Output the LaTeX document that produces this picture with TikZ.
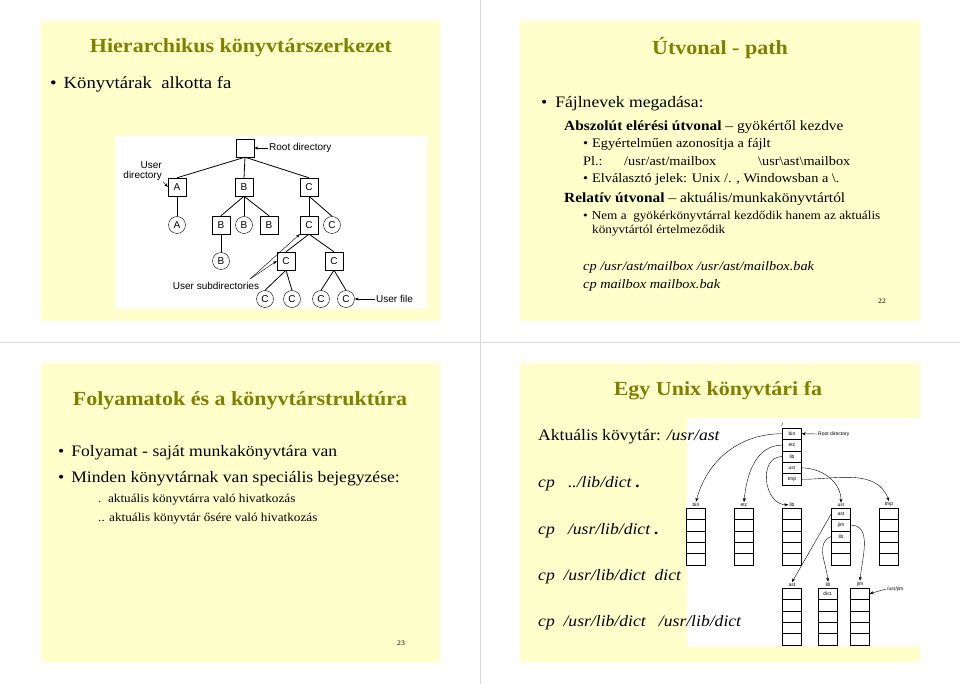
\documentclass[tikz,border=0pt]{standalone}
\usepackage{fontspec}
\setmainfont{Liberation Serif}[FakeStretch=1.1]
\setsansfont{Liberation Sans}
\usetikzlibrary{arrows.meta}
\definecolor{slide}{RGB}{255,255,204}
\definecolor{olive}{RGB}{128,128,0}
\newcommand{\fs}[1]{\fontsize{#1}{#1}\selectfont}
\tikzset{
  ttl/.style={text=olive,font=\fs{20}\bfseries,inner sep=0},
  txt/.style={anchor=west,inner sep=0},
  dirsq/.style={draw,minimum size=18pt,inner sep=0,font=\sffamily\fs{10}},
  filec/.style={draw,circle,minimum size=17pt,inner sep=0,font=\sffamily\fs{10}},
  lbl/.style={font=\sffamily\fs{10},inner sep=1pt},
  cell/.style={draw,minimum width=19pt,minimum height=11.4pt,inner sep=0,font=\sffamily\fs{5}},
  tlbl/.style={font=\sffamily\fs{5},inner sep=1pt},
  ptr/.style={-{Stealth[length=4pt,width=3pt]},thin}
}
\begin{document}
\begin{tikzpicture}[x=1pt,y=-1pt]
\useasboundingbox (0,0) rectangle (960,684);
\fill[white] (0,0) rectangle (960,684);
\draw[black!15] (480,0) -- (480,684);
\draw[black!15] (0,342) -- (960,342);
% slide backgrounds
\fill[slide] (41,21) rectangle (440,321);
\fill[slide] (520,21) rectangle (920,321);
\fill[slide] (41,363) rectangle (440,662);
\fill[slide] (520,363) rectangle (920,662);

%%% slide 1
\node[ttl] (t1) at (241,48) {Hierarchikus könyvtárszerkezet};
\node[txt] (b1) at (50,84) {\fs{17}•\hspace{7pt}Könyvtárak\ \ alkotta fa};
\fill[white] (115,136) rectangle (427,309);
\node[dirsq] (root) at (245,148) {};
\node[dirsq] (A) at (177,187) {A};
\node[dirsq] (B) at (244,187) {B};
\node[dirsq] (C) at (309,187) {C};
\node[filec] (fa) at (177,225) {A};
\node[dirsq] (B1) at (221,225) {B};
\node[filec] (fb) at (244,225) {B};
\node[dirsq] (B2) at (269,225) {B};
\node[dirsq] (C1) at (309,225) {C};
\node[filec] (fc) at (332,225) {C};
\node[filec] (fb1) at (221,261) {B};
\node[dirsq] (C2) at (286,261) {C};
\node[dirsq] (C3) at (334,261) {C};
\node[filec] (f1) at (265,299) {C};
\node[filec] (f2) at (292,299) {C};
\node[filec] (f3) at (321,299) {C};
\node[filec] (f4) at (346,299) {C};
\foreach \a/\b in {root/A,root/B,root/C,A/fa,B/B1,B/fb,B/B2,C/C1,C/fc,B1/fb1,C1/C2,C1/C3,C2/f1,C2/f2,C3/f3,C3/f4}
  \draw[thick] (\a.south) -- (\b.north);
\node[lbl,anchor=west] (rootl) at (268,148) {Root directory};
\draw[ptr] (rootl.west) -- (root.east);
\node[lbl,align=right,anchor=east] (userl) at (163,171) {User\\directory};
\draw[ptr] (userl.south east) -- (A.west);
\node[lbl] (subl) at (216,286) {User subdirectories};
\coordinate (sub) at (250,279);
\draw[ptr] (sub) -- (C1.south west);
\draw[ptr] (sub) -- (C2.west);
\node[lbl,anchor=west] (filel) at (375,299) {User file};
\draw[ptr] (filel.west) -- (f4.east);

%%% slide 2
\node[ttl] (t2) at (720,48) {Útvonal - path};
\node[txt] (p1) at (541,104) {\fs{16}•\hspace{8pt}Fájlnevek megadása:};
\node[txt] (p2) at (564,127) {\fs{14}\textbf{Abszolút elérési útvonal} – gyökértől kezdve};
\node[txt] (p3) at (583,144) {\fs{13}•\hspace{4pt}Egyértelműen azonosítja a fájlt};
\node[txt] (p4) at (583,161) {\fs{13}Pl.:};
\node[txt] (p4b) at (624,161) {\fs{13}/usr/ast/mailbox};
\node[txt] (p4c) at (758,161) {\fs{13}\textbackslash usr\textbackslash ast\textbackslash mailbox};
\node[txt] (p5) at (583,179) {\fs{13}•\hspace{4pt}Elválasztó jelek: Unix /. , Windowsban a \textbackslash.};
\node[txt] (p6) at (564,199) {\fs{14}\textbf{Relatív útvonal} – aktuális/munkakönyvtártól};
\node[txt] (p7) at (583,217) {\fs{12}•\hspace{4pt}Nem a\ \ gyökérkönyvtárral kezdődik hanem az aktuális};
\node[txt] (p8) at (592,231) {\fs{12}könyvtártól értelmeződik};
\node[txt] (p9) at (583,267) {\fs{13}\itshape cp /usr/ast/mailbox /usr/ast/mailbox.bak};
\node[txt] (p10) at (583,285) {\fs{13}\itshape cp mailbox mailbox.bak};
\node[inner sep=0] (n22) at (882,301) {\fs{7}22};

%%% slide 3
\node[ttl] (t3) at (240,401) {Folyamatok és a könyvtárstruktúra};
\node[txt] (q1) at (58,453) {\fs{16}•\hspace{7pt}Folyamat - saját munkakönyvtára van};
\node[txt] (q2) at (58,479) {\fs{16}•\hspace{7pt}Minden könyvtárnak van speciális bejegyzése:};
\node[txt] (q3) at (98,500) {\fs{12}.\ \ aktuális könyvtárra való hivatkozás};
\node[txt] (q4) at (98,519) {\fs{12}.. aktuális könyvtár ősére való hivatkozás};
\node[inner sep=0] (n23) at (401,643) {\fs{7}23};

%%% slide 4
\fill[white] (687,418) rectangle (920,646);
\node[ttl] (t4) at (718,391) {Egy Unix könyvtári fa};
\node[txt] (r1) at (538,437) {\fs{16}Aktuális kövytár: \textit{/usr/ast}};
\node[txt] (r2) at (538,484) {\fs{16}\itshape cp\ \ \ ../lib/dict \textbf{.}};
\node[txt] (r3) at (538,531) {\fs{16}\itshape cp\ \ \ /usr/lib/dict \textbf{.}};
\node[txt] (r4) at (538,577) {\fs{16}\itshape cp\ \ /usr/lib/dict\ \ dict};
\node[txt] (r5) at (538,623) {\fs{16}\itshape cp\ \ /usr/lib/dict\ \ \ /usr/lib/dict};
% root table
\foreach \n [count=\i] in {bin,etc,lib,usr,tmp}
  \node[cell] (r\n) at (792,{422.3+\i*11.4}) {\n};
\node[tlbl,anchor=south] (slash) at (rbin.north west) {/};
\node[tlbl,anchor=west] (rootd) at (817,434) {Root directory};
\draw[ptr] (rootd.west) -- (rbin.east);
% level 2 tables
\foreach \t/\x in {bin/696,etc/744,lib/792,usr/841,tmp/889}{
  \foreach \i in {1,...,5}
    \node[cell] (\t\i) at (\x,{502.3+\i*11.4}) {};
  \node[tlbl,anchor=south] (\t l) at (\t1.north) {\t};
}
\node[tlbl] at (usr1) {ast};
\node[tlbl] at (usr2) {jim};
\node[tlbl] at (usr3) {lib};
% level 3 tables
\foreach \t/\x in {ast/792,lb/828,jim/860}{
  \foreach \i in {1,...,5}
    \node[cell] (\t\i) at (\x,{582.3+\i*11.4}) {};
}
\node[tlbl,anchor=south] (astl) at (ast1.north) {ast};
\node[tlbl,anchor=south] (lbl) at (lb1.north) {lib};
\node[tlbl,anchor=south] (jiml) at (jim1.north) {jim};
\node[tlbl] at (lb1) {dict.};
\node[tlbl,anchor=west] (usrjim) at (886,589) {/usr/jim};
\draw[ptr] (usrjim.west) -- (jim1.east);
% pointers
\draw[ptr] (rbin.west) to[out=180,in=75] (binl.north);
\draw[ptr] (retc.west) to[out=180,in=85] (etcl.north);
\draw[ptr] (rlib.west) to[out=180,in=180,looseness=1.3] (libl.west);
\draw[ptr] (rusr.east) to[out=0,in=90] (usrl.north);
\draw[ptr] (rtmp.east) to[out=0,in=110] (tmpl.north);
\draw[ptr] (usr1.west) -- (astl.north);
\draw[ptr] (usr3.west) to[out=200,in=95] (lbl.north);
\draw[ptr] (usr2.east) to[out=0,in=85] (jiml.north);
\end{tikzpicture}
\end{document}
